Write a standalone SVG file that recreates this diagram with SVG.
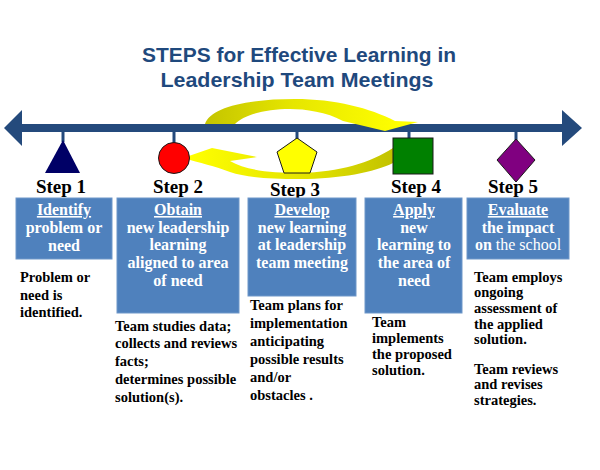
<svg xmlns="http://www.w3.org/2000/svg" width="600" height="470" viewBox="0 0 600 470">
<style>
.title{font-family:"Liberation Sans",Arial,sans-serif;font-weight:bold;font-size:21px;fill:#1f497d;text-anchor:middle}
.step{font-family:"Liberation Serif","Times New Roman",serif;font-weight:bold;font-size:19px;fill:#000;text-anchor:middle}
.box{fill:#4f81bd;stroke:#6f97c9;stroke-width:1}
.bt{font-family:"Liberation Serif","Times New Roman",serif;font-weight:bold;font-size:16px;fill:#fff;text-anchor:middle}
.u{text-decoration:underline}
.desc{font-family:"Liberation Serif","Times New Roman",serif;font-weight:bold;font-size:14.5px;fill:#000}
.tick{stroke:#244a7c;stroke-width:3}
.line{fill:#244a7c}
.shape{stroke:#1a1a1a;stroke-width:1}
</style>
<defs>
<linearGradient id="gUp" x1="205" y1="0" x2="400" y2="0" gradientUnits="userSpaceOnUse">
<stop offset="0" stop-color="#c4c400"/><stop offset="0.45" stop-color="#e6e600"/><stop offset="1" stop-color="#ffff00"/>
</linearGradient>
<linearGradient id="gLow" x1="393" y1="0" x2="190" y2="0" gradientUnits="userSpaceOnUse">
<stop offset="0" stop-color="#c2c200"/><stop offset="0.4" stop-color="#e2e200"/><stop offset="1" stop-color="#ffff00"/>
</linearGradient>
</defs>
<rect width="600" height="470" fill="#fff"/>
<g id="title">
<text class="title" x="299" y="62" textLength="314" lengthAdjust="spacingAndGlyphs">STEPS for Effective Learning in</text>
<text class="title" x="297" y="87" textLength="273" lengthAdjust="spacingAndGlyphs">Leadership Team Meetings</text>
</g>
<g id="connectors">
<rect class="line" x="20" y="124" width="544" height="8"/>
<polygon class="line" points="4,128 22,110 22,146"/>
<polygon class="line" points="582,128 562,110 562,146"/>
<line class="tick" x1="63" y1="131" x2="63" y2="142"/>
<line class="tick" x1="174" y1="131" x2="174" y2="144"/>
<line class="tick" x1="297" y1="131" x2="297" y2="139"/>
<line class="tick" x1="409" y1="131" x2="409" y2="139"/>
<line class="tick" x1="516" y1="131" x2="516" y2="140"/>
<path fill="url(#gUp)" d="M205,124 C210,108 245,99 295,99 C335,99 370,108 395,121 L418,122 L385,131 L343,121 C327,112 305,109 290,109 C265,109 243,115 235,124 Z"/>
<path fill="url(#gLow)" d="M393,148 L393,163 C375,172 340,179 300,179 C265,179 245,177 230,172 C215,166 200,163 183,158 L212,148 L257,157 L230,161 C245,170 270,173 300,173 C340,172 370,163 393,148 Z"/>
</g>
<g id="step1">
<polygon points="63,140 45,173 80,173" fill="#000066"/>
<text class="step" x="61" y="193">Step 1</text>
<rect class="box" x="16" y="198" width="96" height="61"/>
<text class="bt u" x="64" y="215">Identify</text>
<text class="bt" x="64" y="233">problem or</text>
<text class="bt" x="64" y="251">need</text>
<text class="desc"><tspan x="20" y="282">Problem or</tspan><tspan x="20" y="300">need is</tspan><tspan x="20" y="317">identified.</tspan></text>
</g>
<g id="step2">
<circle class="shape" cx="174" cy="158" r="15.5" fill="#ff0000"/>
<text class="step" x="178" y="193">Step 2</text>
<rect class="box" x="117" y="198" width="122" height="115"/>
<text class="bt u" x="178" y="215">Obtain</text>
<text class="bt" x="178" y="233">new leadership</text>
<text class="bt" x="178" y="250">learning</text>
<text class="bt" x="178" y="268">aligned to area</text>
<text class="bt" x="178" y="286">of need</text>
<text class="desc"><tspan x="115" y="331">Team studies data;</tspan><tspan x="115" y="348">collects and reviews</tspan><tspan x="115" y="366">facts;</tspan><tspan x="115" y="384">determines possible</tspan><tspan x="115" y="402">solution(s).</tspan></text>
</g>
<g id="step3">
<polygon class="shape" points="297,138 317,152 310,173 284,173 277,152" fill="#ffff00"/>
<text class="step" x="295" y="196">Step 3</text>
<rect class="box" x="248" y="198" width="108" height="98"/>
<text class="bt u" x="302" y="215">Develop</text>
<text class="bt" x="302" y="233">new learning</text>
<text class="bt" x="302" y="250">at leadership</text>
<text class="bt" x="302" y="268">team meeting</text>
<text class="desc"><tspan x="250" y="310">Team plans for</tspan><tspan x="250" y="328">implementation</tspan><tspan x="250" y="346">anticipating</tspan><tspan x="250" y="364">possible results</tspan><tspan x="250" y="382">and/or</tspan><tspan x="250" y="400">obstacles .</tspan></text>
</g>
<g id="step4">
<rect class="shape" x="393" y="138" width="40" height="36" fill="#008000"/>
<text class="step" x="416" y="193">Step 4</text>
<rect class="box" x="365" y="198" width="97" height="115"/>
<text class="bt u" x="414" y="215">Apply</text>
<text class="bt" x="414" y="233">new</text>
<text class="bt" x="414" y="250">learning to</text>
<text class="bt" x="414" y="268">the area of</text>
<text class="bt" x="414" y="286">need</text>
<text class="desc"><tspan x="372" y="327">Team</tspan><tspan x="372" y="343">implements</tspan><tspan x="372" y="359">the proposed</tspan><tspan x="372" y="375">solution.</tspan></text>
</g>
<g id="step5">
<polygon class="shape" points="516,139 535,160 516,182 497,160" fill="#800080" stroke-width="0.8"/>
<text class="step" x="513" y="193">Step 5</text>
<rect class="box" x="467" y="198" width="102" height="61"/>
<text class="bt u" x="518" y="215">Evaluate</text>
<text class="bt" x="518" y="233">the impact</text>
<text class="bt" x="518" y="250">on <tspan font-weight="normal">the school</tspan></text>
<text class="desc"><tspan x="474" y="282">Team employs</tspan><tspan x="474" y="297">ongoing</tspan><tspan x="474" y="313">assessment of</tspan><tspan x="474" y="329">the applied</tspan><tspan x="474" y="344">solution.</tspan><tspan x="474" y="374">Team reviews</tspan><tspan x="474" y="389">and revises</tspan><tspan x="474" y="405">strategies.</tspan></text>
</g>
</svg>
